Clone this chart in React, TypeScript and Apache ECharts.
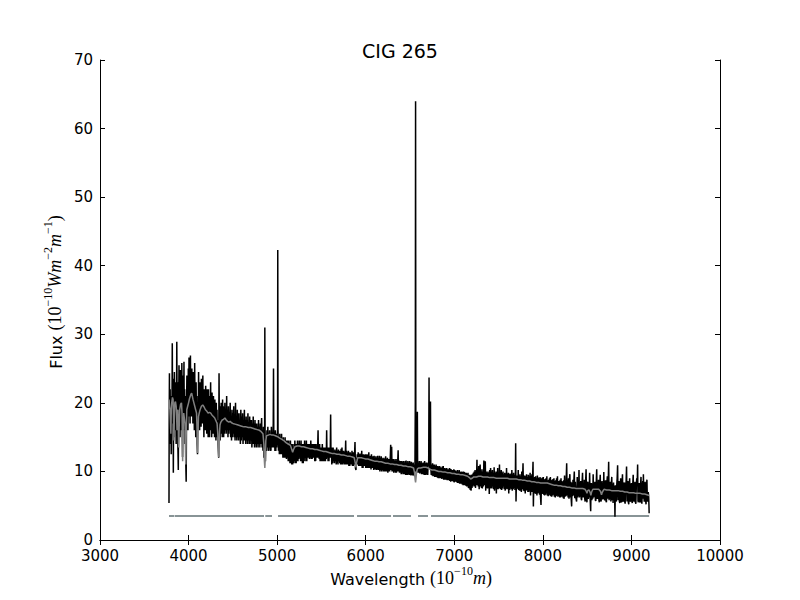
import React, { useEffect, useRef } from "react";
import * as echarts from "echarts";

const titleText = "CIG 265";
const xTicks = { min: 3000, max: 10000, interval: 1000 };
const yTicks = { min: 0, max: 70, interval: 10 };

// Observed spectrum (wavelength Å, flux)
const observed: [number, number][] = [
  [3779, 5.4], [3781, 17], [3784, 24.3], [3788, 14], [3792, 22], [3796, 15], [3800, 21], [3804, 12.5],
  [3808, 20], [3812, 17], [3816, 28.7], [3820, 18], [3824, 23.5], [3828, 9.8], [3832, 21], [3836, 15],
  [3840, 24.5], [3844, 17], [3848, 22], [3852, 16], [3856, 23], [3860, 14], [3864, 21], [3867, 28.9],
  [3871, 18], [3875, 23], [3879, 14], [3884, 10.2], [3888, 19], [3892, 25.5], [3896, 17], [3900, 22],
  [3904, 15], [3908, 24.8], [3912, 18], [3916, 23], [3920, 16], [3924, 25.8], [3928, 17], [3932, 12.1],
  [3936, 20], [3940, 24], [3944, 17], [3948, 26], [3952, 16], [3956, 22], [3960, 14], [3964, 21],
  [3969, 11], [3973, 8.5], [3977, 19], [3981, 24], [3985, 17], [3989, 22.5], [3993, 16], [3997, 25],
  [4001, 18], [4005, 26.6], [4009, 19], [4013, 23], [4017, 17], [4021, 26.9], [4025, 19.5], [4029, 24],
  [4033, 18], [4037, 25], [4041, 19], [4045, 23], [4049, 17], [4053, 24.5], [4057, 18], [4061, 22.5],
  [4065, 16], [4069, 25.8], [4073, 18], [4077, 22], [4081, 15], [4085, 23], [4089, 17], [4093, 21],
  [4097, 14], [4101, 12.5], [4105, 20], [4109, 17], [4113, 24.5], [4117, 18], [4121, 22], [4125, 16],
  [4129, 23], [4133, 17.5], [4137, 21.5], [4141, 16.5], [4145, 23.5], [4149, 17], [4153, 22], [4157, 18],
  [4161, 24], [4165, 17], [4169, 21], [4173, 15], [4177, 22], [4181, 17], [4185, 21], [4189, 16],
  [4193, 22.5], [4197, 17], [4201, 21], [4205, 15.5], [4209, 22], [4213, 17], [4217, 20.5], [4221, 15],
  [4225, 22], [4229, 16.5], [4233, 20], [4237, 15], [4241, 21], [4245, 17], [4249, 23], [4253, 16],
  [4257, 20], [4261, 15], [4265, 21.5], [4269, 16], [4273, 20], [4277, 15.5], [4281, 21], [4285, 16],
  [4289, 19.5], [4293, 15], [4297, 20.5], [4301, 16], [4305, 19], [4309, 14.5], [4313, 20], [4317, 16],
  [4321, 19], [4325, 15], [4329, 17.5], [4333, 14], [4337, 13], [4340, 12], [4344, 24.3], [4348, 15],
  [4352, 19], [4356, 14.5], [4360, 19.5], [4364, 15.5], [4368, 20], [4372, 16], [4376, 19], [4380, 15],
  [4384, 20.5], [4388, 16], [4392, 19.5], [4396, 15], [4400, 18.5], [4405, 15.5], [4410, 20], [4415, 16],
  [4420, 19], [4425, 15.5], [4430, 21], [4435, 16], [4440, 19], [4445, 15], [4450, 19.5], [4455, 15.5],
  [4460, 18.5], [4465, 16], [4470, 20], [4475, 15], [4480, 18], [4485, 14.5], [4490, 19], [4495, 15],
  [4500, 18.5], [4505, 15.5], [4510, 19.5], [4515, 15], [4520, 18], [4525, 14.5], [4530, 20], [4535, 15],
  [4540, 18], [4545, 14.5], [4550, 19], [4555, 15], [4560, 18.5], [4565, 14.5], [4570, 18.5], [4575, 15],
  [4580, 17.5], [4585, 14], [4590, 19], [4595, 14.5], [4600, 18], [4605, 15], [4610, 18.5], [4615, 14],
  [4620, 17.5], [4625, 14.5], [4630, 19], [4635, 14.5], [4640, 17.5], [4645, 14], [4650, 18], [4655, 14.5],
  [4660, 17.5], [4665, 14], [4670, 18.5], [4675, 14.5], [4680, 17], [4685, 14], [4690, 18], [4695, 14],
  [4700, 17.5], [4705, 14.5], [4710, 17.5], [4715, 13.5], [4720, 17], [4725, 14], [4730, 18], [4735, 14],
  [4740, 17], [4745, 13.5], [4750, 17.5], [4755, 14], [4760, 17], [4765, 13.5], [4770, 17], [4775, 14],
  [4780, 16.5], [4785, 13.5], [4790, 17.5], [4795, 14], [4800, 16.5], [4805, 13.5], [4810, 17], [4815, 14],
  [4820, 16.5], [4825, 17.8], [4830, 13.5], [4835, 16], [4840, 13], [4845, 16.5], [4850, 12], [4856, 14],
  [4859, 16], [4861, 31], [4864, 15], [4868, 11.5], [4872, 15], [4878, 13], [4885, 16], [4890, 13.5],
  [4895, 16.5], [4900, 13], [4905, 15.5], [4910, 13.5], [4915, 16], [4920, 13], [4925, 15.5], [4930, 13],
  [4935, 16.5], [4940, 13.5], [4945, 15.5], [4950, 13.5], [4954, 16], [4956, 17], [4959, 25], [4962, 16],
  [4966, 13.5], [4970, 15.5], [4975, 13], [4980, 16], [4985, 13], [4990, 15.5], [4995, 13.5], [5000, 15],
  [5003, 14], [5005, 16], [5007, 42.3], [5010, 16], [5015, 13], [5020, 15], [5025, 12.5], [5030, 15.5],
  [5035, 12.5], [5040, 15], [5045, 12.5], [5050, 15.5], [5055, 12.5], [5060, 14.5], [5065, 12], [5070, 15],
  [5075, 12], [5080, 14.5], [5085, 12], [5090, 15], [5095, 12], [5100, 14.5], [5105, 11.8], [5110, 14.5],
  [5115, 12], [5120, 14.5], [5125, 11.5], [5130, 14.5], [5135, 11.5], [5140, 14], [5145, 11.2], [5150, 14.5],
  [5155, 11.2], [5160, 14], [5165, 11], [5170, 14], [5175, 11], [5180, 13.5], [5185, 11.2], [5190, 14],
  [5195, 11.5], [5200, 14.5], [5205, 11.2], [5210, 14], [5215, 11.2], [5220, 14], [5225, 11.5], [5230, 14.5],
  [5235, 11.5], [5240, 14], [5245, 11.8], [5250, 14.5], [5255, 12], [5260, 14], [5265, 11.5], [5270, 14.5],
  [5275, 11.5], [5280, 14], [5285, 11.2], [5290, 14], [5295, 11.2], [5300, 14], [5305, 11.5], [5310, 14.5],
  [5315, 12], [5320, 14], [5325, 11.5], [5330, 14.5], [5335, 11.5], [5340, 14], [5345, 12], [5350, 14],
  [5355, 12], [5360, 14], [5365, 11.8], [5370, 14], [5375, 12], [5380, 14.5], [5385, 11.8], [5390, 14],
  [5395, 11.8], [5400, 14], [5405, 12], [5410, 14], [5415, 12], [5420, 14], [5425, 11.5], [5430, 14],
  [5435, 11.5], [5440, 14], [5445, 12], [5450, 13.5], [5455, 12], [5462, 16], [5466, 12], [5470, 13.5],
  [5475, 11.8], [5480, 14], [5485, 11.5], [5490, 13.5], [5495, 11.5], [5500, 13.5], [5505, 11.5], [5510, 14],
  [5515, 11.5], [5520, 13.5], [5525, 11.5], [5530, 13.5], [5535, 11.5], [5540, 13.5], [5545, 11.5], [5550, 13],
  [5555, 11.8], [5559, 16], [5563, 12], [5570, 13.5], [5575, 11.5], [5580, 13.5], [5585, 11.5], [5590, 13.5],
  [5595, 12], [5600, 13], [5604, 18.3], [5608, 12], [5612, 13.5], [5617, 11], [5622, 13.5], [5627, 11.2],
  [5632, 13.5], [5637, 11.5], [5642, 13], [5647, 11.2], [5652, 13.2], [5657, 11.5], [5662, 13], [5667, 11],
  [5672, 13.5], [5677, 11.2], [5682, 13], [5687, 11], [5692, 13.2], [5697, 11.5], [5702, 13], [5707, 11.2],
  [5712, 13], [5717, 11], [5722, 13.3], [5727, 11], [5732, 13.5], [5737, 11], [5742, 13], [5747, 11.2],
  [5752, 13], [5757, 11], [5762, 12.8], [5767, 11], [5774, 14.5], [5778, 11], [5784, 13], [5790, 11],
  [5795, 12.8], [5800, 11], [5805, 13], [5810, 10.8], [5815, 12.8], [5820, 10.8], [5825, 12.8], [5830, 11],
  [5835, 12.6], [5840, 11], [5845, 13], [5850, 10.8], [5855, 12.8], [5860, 10.8], [5865, 12.8], [5870, 11],
  [5879, 14.3], [5884, 10.5], [5890, 10.2], [5895, 12], [5900, 11], [5905, 12.5], [5910, 11], [5915, 12.8],
  [5920, 10.8], [5925, 12.5], [5930, 10.8], [5935, 12.6], [5940, 10.8], [5945, 12.5], [5950, 10.8], [5955, 13],
  [5960, 10.5], [5965, 12.5], [5970, 10.5], [5975, 12.5], [5980, 10.8], [5985, 12.4], [5990, 10.8], [5995, 12.5],
  [6000, 10.5], [6005, 12.5], [6010, 10.5], [6015, 12.4], [6020, 10.5], [6025, 12.5], [6030, 10.5], [6035, 12.8],
  [6040, 10.5], [6045, 12.2], [6050, 10.5], [6055, 12.3], [6060, 10.3], [6065, 12.5], [6070, 10.5], [6075, 12.2],
  [6080, 10.5], [6085, 12.2], [6090, 10.2], [6095, 12.3], [6100, 10.3], [6105, 12], [6110, 10.3], [6115, 12.2],
  [6120, 10.2], [6125, 12], [6130, 10.3], [6135, 12.3], [6140, 10.2], [6145, 12], [6150, 10.2], [6155, 12.3],
  [6160, 10], [6165, 12], [6170, 10.2], [6175, 12.2], [6180, 10], [6185, 12], [6190, 10.2], [6195, 11.8],
  [6200, 10], [6205, 12], [6210, 10], [6215, 11.8], [6220, 10], [6225, 12.2], [6230, 10], [6235, 11.8],
  [6240, 10], [6245, 12], [6250, 9.8], [6255, 11.8], [6260, 10], [6265, 11.8], [6270, 10], [6276, 11.5],
  [6282, 13.9], [6287, 10.2], [6293, 13.6], [6297, 10], [6302, 11.8], [6307, 10], [6312, 11.8], [6317, 9.8],
  [6322, 11.6], [6327, 10], [6332, 11.8], [6337, 9.8], [6342, 11.5], [6347, 9.8], [6352, 11.8], [6357, 10],
  [6366, 13.1], [6371, 10], [6376, 11.6], [6381, 9.8], [6386, 11.5], [6391, 9.8], [6396, 11.5], [6401, 9.6],
  [6406, 11.5], [6411, 9.8], [6416, 11.4], [6421, 9.6], [6426, 11.5], [6431, 9.6], [6436, 11.3], [6441, 9.6],
  [6446, 11.5], [6451, 9.5], [6456, 11.6], [6461, 9.5], [6466, 11.3], [6471, 9.5], [6476, 11.5], [6481, 9.6],
  [6486, 11.3], [6491, 9.5], [6496, 11.5], [6501, 9.5], [6506, 11.3], [6511, 9.4], [6516, 11.4], [6521, 9.5],
  [6526, 11.2], [6531, 9.4], [6536, 11.3], [6541, 9.4], [6546, 11], [6551, 9.3], [6556, 11], [6560, 20],
  [6563, 64], [6566, 12], [6570, 10], [6575, 11.5], [6580, 12], [6583, 18.7], [6586, 11], [6590, 9.8],
  [6595, 11.3], [6600, 9.8], [6605, 11.5], [6610, 9.7], [6615, 11.3], [6620, 9.8], [6625, 11.5], [6630, 9.6],
  [6635, 11.3], [6640, 9.6], [6645, 11.2], [6650, 9.6], [6655, 11.3], [6660, 9.5], [6665, 11.5], [6670, 9.5],
  [6675, 11.2], [6680, 9.5], [6685, 11.3], [6690, 9.6], [6695, 11.2], [6700, 9.5], [6705, 11.3], [6711, 11],
  [6715, 23.7], [6719, 11], [6724, 10.5], [6728, 11], [6731, 20.2], [6735, 10.5], [6740, 9.5], [6745, 11],
  [6750, 9.4], [6755, 11.2], [6760, 9.3], [6765, 11], [6770, 9.3], [6775, 11], [6780, 9.2], [6785, 10.8],
  [6790, 9.2], [6795, 11], [6800, 9.2], [6805, 10.8], [6810, 9.1], [6815, 10.8], [6820, 9], [6825, 10.7],
  [6830, 9], [6835, 10.8], [6840, 9], [6845, 10.6], [6850, 9], [6855, 10.5], [6860, 8.9], [6865, 10.7],
  [6870, 9], [6875, 10.8], [6880, 8.8], [6885, 10.5], [6890, 8.8], [6895, 10.5], [6900, 8.8], [6905, 10.4],
  [6910, 8.8], [6915, 10.5], [6920, 8.7], [6925, 10.3], [6930, 8.7], [6935, 10.3], [6940, 8.7], [6945, 10.5],
  [6950, 8.6], [6955, 10.4], [6960, 8.5], [6965, 10.3], [6970, 8.6], [6975, 10.2], [6980, 8.6], [6985, 10.2],
  [6990, 8.5], [6995, 10.3], [7000, 8.4], [7005, 10.2], [7010, 8.5], [7015, 10.1], [7020, 8.5], [7025, 10],
  [7030, 8.4], [7035, 10.2], [7040, 8.3], [7045, 10], [7050, 8.3], [7055, 10.2], [7060, 8.2], [7065, 10],
  [7070, 8.2], [7075, 9.9], [7080, 8.2], [7085, 10], [7090, 8.1], [7095, 9.9], [7100, 8], [7105, 10],
  [7110, 8], [7115, 9.9], [7120, 8], [7125, 9.8], [7130, 7.9], [7135, 9.8], [7140, 7.8], [7145, 9.7],
  [7150, 7.8], [7155, 9.8], [7160, 7.6], [7165, 9.5], [7170, 7.5], [7175, 9.5], [7180, 7.3], [7185, 9.4],
  [7190, 7.2], [7195, 9.5], [7200, 7.6], [7205, 9.6], [7210, 7.8], [7215, 9.8], [7220, 8], [7225, 10],
  [7230, 7.8], [7235, 10.2], [7240, 7.6], [7245, 10], [7250, 8], [7256, 11.7], [7261, 8], [7266, 10.3],
  [7271, 7.8], [7276, 10.8], [7281, 7.4], [7286, 10.2], [7292, 11], [7297, 7.8], [7302, 10], [7307, 7.6],
  [7312, 10.3], [7317, 7.5], [7322, 10], [7328, 7.8], [7334, 11.6], [7339, 8], [7345, 10.5], [7350, 11.5],
  [7355, 7.2], [7360, 10], [7365, 7.6], [7370, 9.8], [7375, 7.5], [7380, 10], [7385, 7.6], [7390, 9.8],
  [7395, 6.7], [7400, 10.2], [7405, 7.5], [7410, 10.5], [7415, 7.6], [7420, 10], [7425, 7.5], [7430, 10.2],
  [7435, 7.8], [7440, 9.8], [7445, 7.4], [7450, 10.6], [7455, 7.2], [7460, 10], [7465, 7.5], [7470, 9.8],
  [7475, 6.8], [7480, 10], [7485, 7.4], [7490, 10.5], [7495, 7.4], [7500, 9.8], [7505, 7.5], [7510, 11],
  [7515, 7.5], [7520, 10], [7525, 7.4], [7530, 10.2], [7535, 7.3], [7540, 9.8], [7545, 7.5], [7550, 10],
  [7555, 7.8], [7560, 9.6], [7565, 7.4], [7570, 9.8], [7575, 7.2], [7580, 9.7], [7585, 7.4], [7590, 10.5],
  [7595, 7.5], [7600, 9.6], [7605, 7.4], [7610, 9.8], [7615, 6.8], [7620, 9.6], [7625, 7.3], [7630, 9.7],
  [7635, 7.5], [7640, 9.6], [7645, 7.4], [7650, 10.2], [7655, 7.2], [7660, 9.6], [7665, 7.4], [7670, 9.8],
  [7675, 7.6], [7680, 9.5], [7685, 7.3], [7690, 9.5], [7693, 14.1], [7697, 5.6], [7702, 9], [7707, 7.4],
  [7712, 9.4], [7717, 7.5], [7722, 10.2], [7727, 7.3], [7732, 9.4], [7737, 7.2], [7742, 9.6], [7747, 7.2],
  [7752, 9.3], [7757, 7], [7762, 10], [7768, 7.4], [7776, 11.2], [7781, 7.2], [7786, 9.4], [7791, 7.1],
  [7796, 9.4], [7801, 6.8], [7806, 9.3], [7811, 7.2], [7816, 9.6], [7821, 7.3], [7826, 9.2], [7831, 7],
  [7836, 9.5], [7841, 7], [7846, 9.3], [7851, 7.2], [7856, 9.8], [7861, 6.5], [7866, 9.3], [7871, 7],
  [7876, 9.6], [7881, 7], [7885, 9.5], [7889, 11.4], [7893, 4.9], [7898, 8.6], [7903, 7], [7908, 9.2],
  [7913, 6.8], [7918, 9.3], [7923, 6.7], [7928, 9], [7933, 6.5], [7938, 9.4], [7943, 6.8], [7948, 9.1],
  [7953, 6.9], [7958, 9], [7963, 6.6], [7968, 9.2], [7973, 6.4], [7979, 5.1], [7985, 9], [7990, 6.8],
  [7995, 9.1], [8000, 6.7], [8005, 9.2], [8010, 6.6], [8015, 8.8], [8020, 6.5], [8025, 8.9], [8030, 6.6],
  [8035, 9], [8040, 6.8], [8045, 9.3], [8050, 6.5], [8055, 8.7], [8060, 6.4], [8065, 8.8], [8070, 6.5],
  [8075, 9], [8080, 6.6], [8085, 9.2], [8090, 6.4], [8095, 8.7], [8100, 6.3], [8105, 8.8], [8110, 6.5],
  [8115, 8.9], [8120, 6.6], [8125, 9], [8130, 6.3], [8135, 8.6], [8140, 6.2], [8145, 8.7], [8150, 6.4],
  [8155, 9], [8160, 6.5], [8165, 9.3], [8170, 6.3], [8175, 8.6], [8180, 6.4], [8185, 8.6], [8190, 6.2],
  [8195, 8.8], [8200, 6.2], [8205, 9], [8210, 6.3], [8215, 8.6], [8220, 6.3], [8225, 8.5], [8230, 6.1],
  [8235, 8.7], [8240, 6], [8245, 9.4], [8250, 6.3], [8255, 8.6], [8260, 6.4], [8264, 9], [8269, 11.2],
  [8274, 6.5], [8280, 8.8], [8285, 6.2], [8290, 9], [8295, 6], [8300, 8.8], [8305, 9.6], [8310, 6.2],
  [8315, 8.5], [8320, 6], [8325, 4.9], [8330, 8.4], [8335, 6.4], [8340, 8.8], [8345, 6.5], [8350, 8.6],
  [8355, 10], [8360, 6.1], [8366, 8.5], [8372, 6.2], [8381, 5.6], [8388, 9.2], [8393, 6.2], [8398, 8.6],
  [8403, 6.4], [8408, 10.2], [8413, 6.2], [8418, 8.4], [8423, 6.3], [8428, 8.6], [8433, 6], [8438, 5.8],
  [8443, 8.4], [8448, 9.8], [8453, 6.2], [8458, 8.3], [8463, 6.2], [8468, 8.8], [8473, 6], [8478, 5.6],
  [8483, 8.5], [8488, 10.3], [8493, 6], [8498, 5.5], [8503, 8.2], [8508, 8.5], [8513, 6], [8518, 8.2],
  [8523, 6.2], [8528, 9.8], [8534, 6], [8540, 4.2], [8544, 8], [8548, 8.3], [8553, 5.8], [8558, 8.2],
  [8563, 6], [8568, 9.6], [8573, 6.2], [8578, 8.4], [8583, 6.3], [8588, 8.5], [8593, 5.8], [8598, 5.7],
  [8603, 8.3], [8608, 10.3], [8613, 6], [8618, 8.2], [8623, 6], [8628, 8.8], [8633, 5.8], [8638, 5.5],
  [8643, 8.2], [8648, 9.5], [8653, 5.8], [8658, 5.6], [8663, 8.1], [8668, 8.6], [8673, 5.9], [8678, 8.2],
  [8683, 6], [8688, 9.9], [8693, 6], [8698, 5.8], [8703, 8.2], [8708, 8.7], [8713, 5.7], [8718, 5.5],
  [8723, 8.3], [8728, 9.3], [8734, 6], [8738, 8.4], [8743, 11.4], [8748, 5.8], [8753, 8.2], [8758, 6],
  [8763, 8.5], [8768, 5.6], [8773, 8], [8778, 9.2], [8783, 5.8], [8788, 8.2], [8793, 5.4], [8798, 8.4],
  [8804, 5.8], [8809, 7.9], [8814, 3.4], [8819, 8], [8824, 5.8], [8830, 5.6], [8835, 8.2], [8839, 9],
  [8844, 10.9], [8849, 5.8], [8854, 8.2], [8859, 8.6], [8864, 5.6], [8869, 5.4], [8874, 8], [8879, 9],
  [8884, 5.6], [8889, 5.5], [8894, 8.2], [8899, 9.6], [8904, 5.7], [8909, 5.6], [8914, 8], [8919, 8.4],
  [8924, 5.6], [8929, 5.3], [8935, 8.2], [8940, 8.5], [8945, 10.7], [8950, 5.6], [8955, 7.9], [8960, 8.6],
  [8965, 5.5], [8970, 5.2], [8975, 8], [8980, 9], [8985, 5.6], [8990, 5.7], [8995, 7.8], [9000, 8.3],
  [9005, 5.6], [9010, 5.4], [9015, 8], [9020, 9.5], [9025, 5.8], [9030, 5.6], [9035, 7.8], [9040, 8.5],
  [9045, 5.5], [9050, 5.3], [9055, 7.8], [9060, 9], [9065, 8], [9070, 11], [9074, 5.7], [9078, 5.5],
  [9083, 7.9], [9088, 8.3], [9093, 5.6], [9098, 5.5], [9103, 8], [9108, 9.2], [9113, 5.6], [9118, 5.3],
  [9123, 7.8], [9128, 8.6], [9132, 6], [9135, 9.6], [9140, 6.5], [9145, 5.6], [9150, 7.8], [9155, 8.5],
  [9160, 5.8], [9165, 5.2], [9170, 7.8], [9175, 8.8], [9180, 5.6], [9185, 5.8], [9190, 7], [9195, 6.2],
  [9198, 5], [9200, 3.9],
];

// Smoothed model spectrum (wavelength Å, flux)
const model: [number, number][] = [
  [3780, 20.5], [3785, 19.5], [3790, 19], [3795, 17.5], [3800, 15.5], [3805, 19], [3810, 20], [3818, 20.8],
  [3825, 20.5], [3830, 18], [3835, 14.5], [3840, 18.5], [3845, 20], [3852, 20.2], [3860, 19.5], [3865, 18],
  [3870, 16], [3875, 18.5], [3880, 19], [3885, 16], [3889, 13.5], [3894, 16.5], [3900, 19], [3910, 19.8],
  [3920, 20], [3926, 18.5], [3933, 11.5], [3939, 16], [3945, 18.5], [3952, 18.5], [3960, 17], [3964, 14],
  [3968, 11], [3972, 14.5], [3980, 19], [3990, 19.5], [4000, 20], [4010, 20.6], [4020, 21], [4028, 21.3],
  [4035, 21.4], [4042, 21], [4050, 20.5], [4060, 20], [4070, 19.5], [4080, 19], [4090, 18.5], [4096, 16],
  [4101, 12.7], [4106, 15.5], [4112, 18], [4120, 18.5], [4130, 19], [4145, 19.5], [4160, 19.7], [4175, 19.4],
  [4190, 19], [4205, 18.8], [4220, 18.5], [4235, 18.6], [4250, 18.5], [4265, 18.2], [4280, 18], [4295, 17.8],
  [4305, 17.5], [4315, 17.2], [4322, 17], [4330, 15.5], [4336, 13], [4340, 12.1], [4345, 13.5], [4350, 15.8],
  [4355, 16.8], [4365, 17.2], [4380, 17.5], [4395, 17.6], [4410, 17.8], [4425, 17.5], [4440, 17.3], [4455, 17.2],
  [4470, 17.3], [4485, 17.1], [4500, 17], [4525, 16.9], [4550, 16.8], [4575, 16.7], [4600, 16.6], [4625, 16.5],
  [4650, 16.5], [4675, 16.4], [4700, 16.4], [4725, 16.3], [4750, 16.2], [4775, 16.1], [4800, 16], [4820, 15.8],
  [4840, 15.5], [4850, 14], [4856, 11.5], [4861, 10.5], [4866, 11.8], [4872, 14.5], [4880, 15.2], [4900, 15.3],
  [4920, 15.4], [4940, 15.3], [4960, 15.3], [4980, 15.2], [5000, 15.1], [5025, 14.9], [5050, 14.7], [5075, 14.5],
  [5100, 14.2], [5125, 14], [5150, 13.8], [5165, 13.2], [5175, 12.8], [5185, 13.2], [5200, 13.6], [5225, 13.7],
  [5250, 13.7], [5275, 13.6], [5300, 13.6], [5325, 13.5], [5350, 13.4], [5375, 13.3], [5400, 13.3], [5425, 13.2],
  [5450, 13.2], [5475, 13.1], [5500, 13], [5525, 12.9], [5550, 12.9], [5575, 12.8], [5600, 12.7], [5625, 12.6],
  [5650, 12.6], [5675, 12.5], [5700, 12.5], [5725, 12.4], [5750, 12.4], [5775, 12.3], [5800, 12.2], [5825, 12.2],
  [5850, 12.1], [5870, 12], [5882, 11.2], [5890, 10.6], [5897, 11.3], [5910, 12], [5930, 12], [5950, 12],
  [5975, 11.9], [6000, 11.8], [6025, 11.8], [6050, 11.7], [6075, 11.6], [6100, 11.5], [6125, 11.5], [6150, 11.4],
  [6175, 11.4], [6200, 11.3], [6225, 11.2], [6250, 11.2], [6275, 11.1], [6300, 11.1], [6325, 11], [6350, 11],
  [6375, 10.9], [6400, 10.9], [6425, 10.8], [6450, 10.8], [6475, 10.7], [6500, 10.7], [6520, 10.6], [6540, 10.5],
  [6552, 9.8], [6558, 8.8], [6563, 8.4], [6568, 9], [6575, 10], [6585, 10.4], [6600, 10.5], [6620, 10.5],
  [6650, 10.6], [6680, 10.6], [6705, 10.5], [6730, 10.3], [6750, 10.2], [6775, 10.2], [6800, 10.1], [6825, 10],
  [6850, 10], [6875, 9.9], [6900, 9.9], [6925, 9.8], [6950, 9.8], [6975, 9.7], [7000, 9.7], [7025, 9.6],
  [7050, 9.6], [7075, 9.5], [7100, 9.5], [7125, 9.4], [7150, 9.3], [7170, 9.1], [7185, 8.9], [7200, 9],
  [7220, 9.2], [7250, 9.2], [7275, 9.3], [7300, 9.3], [7325, 9.2], [7350, 9.2], [7375, 9.2], [7400, 9.1],
  [7425, 9.1], [7450, 9.1], [7475, 9], [7500, 9], [7525, 9], [7550, 9], [7575, 9], [7600, 9],
  [7625, 8.9], [7650, 8.9], [7675, 8.9], [7700, 8.9], [7725, 8.8], [7750, 8.8], [7775, 8.7], [7800, 8.7],
  [7825, 8.6], [7850, 8.6], [7875, 8.5], [7900, 8.5], [7925, 8.4], [7950, 8.4], [7975, 8.3], [8000, 8.3],
  [8025, 8.3], [8050, 8.3], [8075, 8.2], [8100, 8.1], [8125, 8], [8150, 8], [8175, 7.9], [8200, 7.9],
  [8225, 7.8], [8250, 7.8], [8275, 7.7], [8300, 7.7], [8325, 7.6], [8350, 7.6], [8375, 7.5], [8400, 7.5],
  [8425, 7.5], [8450, 7.5], [8475, 7.4], [8490, 7.1], [8498, 6.8], [8506, 7.2], [8520, 7.3], [8535, 6.9],
  [8542, 6.5], [8550, 7], [8565, 7.4], [8600, 7.4], [8630, 7.4], [8650, 7.1], [8662, 6.6], [8672, 7],
  [8690, 7.4], [8720, 7.3], [8750, 7.3], [8775, 7.2], [8800, 7.2], [8825, 7.2], [8850, 7.2], [8875, 7.1],
  [8900, 7.1], [8925, 7], [8950, 7], [8975, 6.9], [9000, 6.9], [9025, 6.9], [9050, 6.8], [9075, 6.8],
  [9100, 6.8], [9125, 6.7], [9150, 6.7], [9175, 6.6], [9200, 6.5],
];

// Mask indicator segments (wavelength start, end) at constant level
const maskLevel = 3.5;
const maskSegments: [number, number][] = [
  [3779, 3840], [3846, 4852], [4866, 4942], [5010, 5868], [5902, 6286],
  [6308, 6511], [6590, 6703], [6737, 9200],
];

const sans = "'DejaVu Sans', 'Liberation Sans', sans-serif";
const serif = "'Liberation Serif', 'DejaVu Serif', serif";

export default function App() {
  const ref = useRef<HTMLDivElement>(null);

  useEffect(() => {
    if (!ref.current) return;
    const chart = echarts.init(ref.current, undefined, { renderer: "svg" });

    const axisCommon = {
      axisLine: { show: true, lineStyle: { color: "#000", width: 1 } },
      axisTick: { show: true, inside: true, length: 5, lineStyle: { color: "#000", width: 1 } },
      splitLine: { show: false },
    };

    const richMath = {
      s: { fontFamily: sans, fontSize: 16, color: "#000", lineHeight: 22, verticalAlign: "bottom" },
      r: { fontFamily: serif, fontSize: 18, color: "#000", lineHeight: 22, verticalAlign: "bottom" },
      i: { fontFamily: serif, fontSize: 18, fontStyle: "italic", color: "#000", lineHeight: 22, verticalAlign: "bottom" },
      u: { fontFamily: serif, fontSize: 12, color: "#000", lineHeight: 22, verticalAlign: "top" },
    };

    const maskSeries = maskSegments.map((seg) => ({
      type: "line",
      data: [
        [seg[0], maskLevel],
        [seg[1], maskLevel],
      ],
      showSymbol: false,
      lineStyle: { color: "#607073", width: 1.5 },
      silent: true,
      z: 1,
    }));

    const plainNumber = (v: number) => String(v);

    chart.setOption({
      animation: false,
      backgroundColor: "#fff",
      title: {
        text: titleText,
        left: "center",
        top: 36,
        textStyle: { fontFamily: sans, fontSize: 19, fontWeight: "normal", color: "#000" },
      },
      grid: { left: 100, right: 80, top: 60, bottom: 60, containLabel: false },
      xAxis: [
        {
          type: "value",
          min: xTicks.min,
          max: xTicks.max,
          interval: xTicks.interval,
          position: "bottom",
          ...axisCommon,
          axisLabel: { show: true, margin: 8, fontFamily: sans, fontSize: 15, color: "#000", formatter: plainNumber },
        },
        {
          type: "value",
          min: xTicks.min,
          max: xTicks.max,
          interval: xTicks.interval,
          position: "top",
          ...axisCommon,
          axisLabel: { show: false },
        },
      ],
      yAxis: [
        {
          type: "value",
          min: yTicks.min,
          max: yTicks.max,
          interval: yTicks.interval,
          position: "left",
          ...axisCommon,
          axisLabel: { show: true, margin: 7, fontFamily: sans, fontSize: 15, color: "#000", formatter: plainNumber },
        },
        {
          type: "value",
          min: yTicks.min,
          max: yTicks.max,
          interval: yTicks.interval,
          position: "right",
          ...axisCommon,
          axisLabel: { show: false },
        },
      ],
      graphic: [
        {
          type: "text",
          x: 411,
          y: 576,
          style: {
            text: "{s|Wavelength }{r|(10}{u|−10}{i|m}{r|)}",
            rich: richMath,
            align: "center",
            verticalAlign: "middle",
          },
        },
        {
          type: "text",
          x: 53,
          y: 292,
          rotation: Math.PI / 2,
          style: {
            text: "{s|Flux }{r|(10}{u|−10}{i|Wm}{u|−2}{i|m}{u|−1}{r|)}",
            rich: richMath,
            align: "center",
            verticalAlign: "middle",
          },
        },
      ],
      series: [
        ...maskSeries,
        {
          type: "line",
          data: observed,
          showSymbol: false,
          lineStyle: { color: "#000", width: 1.5 },
          silent: true,
          z: 2,
        },
        {
          type: "line",
          data: model,
          showSymbol: false,
          lineStyle: { color: "#808080", width: 1.5 },
          silent: true,
          z: 3,
        },
      ],
    });

    return () => {
      chart.dispose();
    };
  }, []);

  return (
    <div
      ref={ref}
      style={{ position: "fixed", left: 0, top: 0, width: 800, height: 600, background: "#fff" }}
    />
  );
}
